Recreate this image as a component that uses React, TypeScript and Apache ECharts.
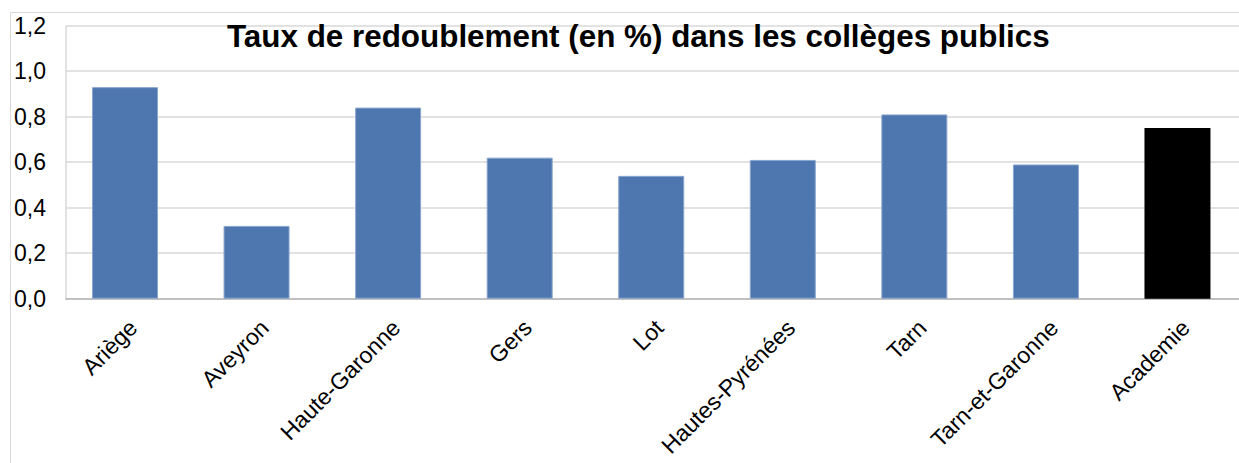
import React, { useEffect, useRef } from "react";
import * as echarts from "echarts";

const categories = [
  "Ariège",
  "Aveyron",
  "Haute-Garonne",
  "Gers",
  "Lot",
  "Hautes-Pyrénées",
  "Tarn",
  "Tarn-et-Garonne",
  "Academie",
];
const values = [0.93, 0.32, 0.84, 0.62, 0.54, 0.61, 0.81, 0.59, 0.75];
const highlight = "Academie";
const titleText = "Taux de redoublement (en %) dans les collèges publics";

const FONT = "'Liberation Sans', Arial, sans-serif";

export default function App() {
  const ref = useRef<HTMLDivElement>(null);
  useEffect(() => {
    if (!ref.current) return;
    const chart = echarts.init(ref.current, null, { renderer: "svg" });
    const idx = categories.map((_, i) => i);
    chart.setOption({
      animation: false,
      backgroundColor: "#ffffff",
      textStyle: { fontFamily: FONT },
      title: {
        text: titleText,
        left: 222,
        top: 16,
        textStyle: { fontFamily: FONT, fontWeight: "bold", fontSize: 31.4, color: "#000" },
      },
      graphic: [
        {
          type: "rect",
          shape: { x: 10.5, y: 12.5, width: 1400, height: 600 },
          style: { fill: "none", stroke: "#d9d9d9", lineWidth: 1 },
          z: -1,
        },
      ],
      grid: { left: 66, right: 0, top: 25.7, bottom: 164.3, containLabel: false },
      xAxis: {
        type: "value",
        min: -0.4485,
        max: 8.4677,
        splitLine: { show: false },
        axisLine: { show: true, onZero: false, lineStyle: { color: "#c0c0c0", width: 2 } },
        axisTick: { show: false, customValues: idx },
        axisLabel: {
          customValues: idx,
          rotate: 45,
          margin: 17,
          verticalAlign: "top",
          fontSize: 23,
          color: "#000",
          fontFamily: FONT,
          formatter: (v: number) => categories[Math.round(v)] ?? "",
        },
      },
      yAxis: {
        type: "value",
        min: 0,
        max: 1.2,
        interval: 0.2,
        axisLine: { show: true, onZero: false, lineStyle: { color: "#d9d9d9", width: 1.5 } },
        axisTick: { show: false },
        splitLine: { show: true, lineStyle: { color: "#d9d9d9", width: 1.5 } },
        axisLabel: {
          margin: 20,
          fontSize: 23,
          color: "#000",
          fontFamily: FONT,
          formatter: (v: number) => v.toFixed(1).replace(".", ","),
        },
      },
      series: [
        {
          type: "bar",
          barWidth: 66,
          data: values.map((v, i) => ({
            value: [i, v],
            itemStyle:
              categories[i] === highlight
                ? { color: "#000000", borderColor: "#000000", borderWidth: 0 }
                : { color: "#4e77af", borderColor: "#8aa6cf", borderWidth: 1 },
          })),
        },
      ],
    });
    return () => chart.dispose();
  }, []);
  return (
    <div
      ref={ref}
      style={{ position: "fixed", left: 0, top: 0, width: 1239, height: 463 }}
    />
  );
}
